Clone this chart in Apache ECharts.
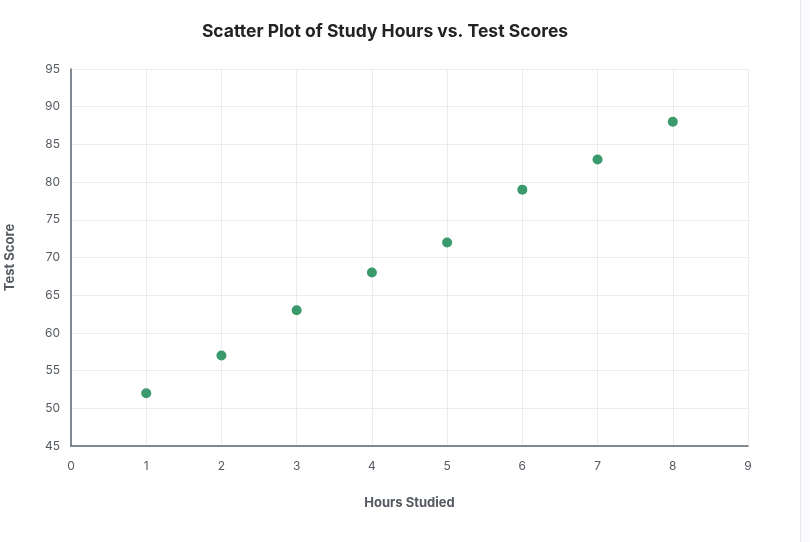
<!DOCTYPE html>
<html>
<head>
<meta charset="utf-8">
<script src="https://cdn.jsdelivr.net/npm/echarts@6/dist/echarts.min.js"></script>
<style>
  html, body { margin: 0; padding: 0; background: #fff; }
  #chart { position: absolute; left: 0; top: 0; width: 770px; height: 542px; }
  #edge { position: absolute; left: 800px; top: 0; width: 10px; height: 542px;
          border-left: 1px solid #e9e9f1; background: #fbfbfd; box-sizing: border-box; }
</style>
</head>
<body>
<div id="chart"></div>
<div id="edge"></div>
<script>
// Study hours vs test score
const hours = [1, 2, 3, 4, 5, 6, 7, 8];
const scores = [52, 57, 63, 68, 72, 79, 83, 88];

const axisText = '#555a61';
const gridLine = '#ececef';
const font = 'Inter, "Noto Sans", sans-serif';

const chart = echarts.init(document.getElementById('chart'), null, { renderer: 'canvas' });
chart.setOption({
  animation: false,
  textStyle: { fontFamily: font },
  title: {
    text: 'Scatter Plot of Study Hours vs. Test Scores',
    left: 'center',
    top: 18,
    textStyle: { fontSize: 17.5, fontWeight: 'bold', color: '#222', fontFamily: font },
  },
  grid: { left: 71, right: 22, top: 69, bottom: 96, containLabel: false, outerBoundsMode: 'none' },
  xAxis: {
    type: 'value',
    min: 0, max: 9, interval: 1,
    name: 'Hours Studied',
    nameLocation: 'middle',
    nameGap: 51,
    nameTextStyle: { fontSize: 13, fontWeight: 'bold', color: axisText },
    axisLine: { show: true, lineStyle: { color: '#5e6670', width: 1.5 } },
    axisTick: { show: false },
    axisLabel: { color: axisText, fontSize: 12, margin: 14 },
    splitLine: { show: true, lineStyle: { color: gridLine, width: 1 } },
  },
  yAxis: {
    type: 'value',
    min: 45, max: 95, interval: 5,
    name: 'Test Score',
    nameLocation: 'middle',
    nameGap: 54,
    nameTextStyle: { fontSize: 13, fontWeight: 'bold', color: axisText },
    axisLine: { show: true, lineStyle: { color: '#5e6670', width: 1.5 } },
    axisTick: { show: false },
    axisLabel: { color: axisText, fontSize: 12, margin: 11 },
    splitLine: { show: true, lineStyle: { color: gridLine, width: 1 } },
  },
  series: [{
    type: 'scatter',
    symbolSize: 10,
    itemStyle: { color: '#3a9a6b', opacity: 1 },
    data: hours.map((h, i) => [h, scores[i]]),
  }],
});
</script>
</body>
</html>
